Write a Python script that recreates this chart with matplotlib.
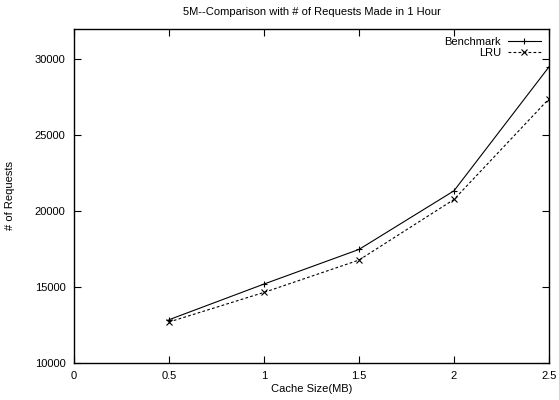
import numpy as np
import matplotlib
matplotlib.use('Agg')
import matplotlib.pyplot as plt

plt.rcParams['font.family'] = ['Liberation Sans', 'DejaVu Sans']
plt.rcParams['font.size'] = 8

# cache size (MB) vs number of requests served in one hour
cache_mb = [0.5, 1.0, 1.5, 2.0, 2.5]
benchmark = [12850, 15200, 17480, 21340, 29500]
lru = [12700, 14650, 16780, 20770, 27400]

fig = plt.figure(figsize=(5.59, 4.0), dpi=100)
ax = fig.add_axes([0.1324, 0.0925, 0.8496, 0.835])

ax.plot(cache_mb, benchmark, '-', color='black', lw=0.8,
        marker='+', ms=5, mew=0.8, label='Benchmark')
ax.plot(cache_mb, lru, '--', color='black', lw=0.8, dashes=(2.5, 2),
        marker='x', ms=4, mew=0.8, label='LRU')

ax.set_xlim(0, 2.5)
ax.set_ylim(10000, 32000)
ax.set_xticks([0, 0.5, 1, 1.5, 2, 2.5])
ax.set_xticklabels(['0', '0.5', '1', '1.5', '2', '2.5'])
ax.set_yticks(np.arange(10000, 30001, 5000))
ax.tick_params(direction='in', length=5, width=0.8, top=True, right=True, pad=6)
for s in ax.spines.values():
    s.set_linewidth(1.0)

ax.set_title('5M--Comparison with # of Requests Made in 1 Hour', fontsize=8, pad=10)
ax.set_xlabel('Cache Size(MB)', labelpad=2)
ax.set_ylabel('# of Requests', labelpad=14)

ax.legend(loc='upper right', frameon=False, markerfirst=False, handlelength=3.0,
          borderaxespad=0.3, labelspacing=0.1, handletextpad=0.6, fontsize=8)

plt.savefig('out.png', dpi=100)
